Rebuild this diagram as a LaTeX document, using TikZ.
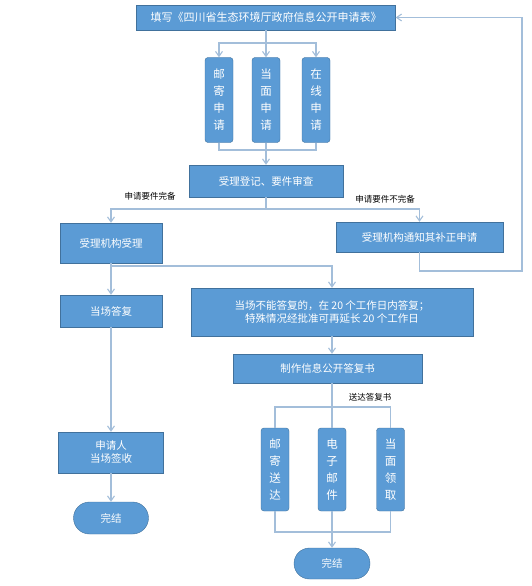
\documentclass[tikz,border=0pt]{standalone}
\usepackage{fontspec}
\setmainfont{Noto Sans CJK SC}
\usetikzlibrary{arrows.meta,positioning,shapes.misc}
\definecolor{BoxBlue}{HTML}{5B9BD5}
\definecolor{EdgeBlue}{HTML}{41719C}
\definecolor{LineBlue}{HTML}{A3BEDA}

\begin{document}
\begin{tikzpicture}[
  x=1pt, y=-1pt,
  block/.style={draw=EdgeBlue, fill=BoxBlue, text=white, inner sep=1pt, align=center, font=\fontsize{10.5}{13}\selectfont},
  tall/.style={block, rounded corners=3pt, minimum width=28pt, minimum height=85pt, font=\fontsize{11.5}{17}\selectfont},
  term/.style={block, rounded rectangle, minimum width=77pt, minimum height=32pt},
  note/.style={font=\fontsize{8.5}{10}\selectfont, text=black},
  line/.style={draw=LineBlue, line width=1.1pt},
  arr/.style={line, -{Straight Barb[length=5pt, width=7pt]}}
]
\useasboundingbox (0,0) rectangle (532,586);
% application
\node[block, minimum width=259pt, minimum height=25pt, font=\fontsize{11}{13}\selectfont] (fill) at (266,17.5) {填写《四川省生态环境厅政府信息公开申请表》};
\node[tall] (mail) at (219,100) {邮\\寄\\申\\请};
\node[tall] (face) at (266,100) {当\\面\\申\\请};
\node[tall] (online) at (316,100) {在\\线\\申\\请};
\node[block, minimum width=154pt, minimum height=32pt] (reg) at (266,181) {受理登记、要件审查};
\node[block, minimum width=102pt, minimum height=40pt] (acc) at (111,243) {受理机构受理};
\node[block, minimum width=167pt, minimum height=30pt] (fix) at (419.5,237) {受理机构通知其补正申请};
% reply
\node[block, minimum width=102pt, minimum height=32pt] (spot) at (111,311) {当场答复};
\node[block, minimum width=282pt, minimum height=48pt] (late) at (332,312) {当场不能答复的，在 20 个工作日内答复；\\特殊情况经批准可再延长 20 个工作日};
\node[block, minimum width=189pt, minimum height=29pt] (make) at (327.5,368.5) {制作信息公开答复书};
\node[block, minimum width=105pt, minimum height=41pt] (sign) at (111,452.5) {申请人\\当场签收};
\node[term] (end1) at (111,518) {完结};
\node[tall, minimum height=83pt] (post) at (275,469.5) {邮\\寄\\送\\达};
\node[tall, minimum height=83pt] (email) at (332,469.5) {电\\子\\邮\\件};
\node[tall, minimum height=83pt] (pick) at (390.5,469.5) {当\\面\\领\\取};
\node[term, minimum width=78pt, minimum height=31pt] (end2) at (332,563.5) {完结};
% labels
\node[note] (ok) at (150,196) {申请要件完备};
\node[note] (nok) at (385,199) {申请要件不完备};
\node[note] (send) at (370,397) {送达答复书};
% connectors
\coordinate (j1) at (266,43);
\coordinate (j2) at (266,150);
\coordinate (j3) at (266,209);
\coordinate (j4) at (111,266);
\coordinate (back) at (522,271);
\coordinate (j5) at (332,407);
\coordinate (j6) at (332,532);
\draw[line] (fill.south) -- (j1);
\draw[arr] (j1) -| (mail.north);
\draw[arr] (j1) -- (face.north);
\draw[arr] (j1) -| (online.north);
\draw[line] (mail.south) |- (j2) -| (online.south);
\draw[arr] (face.south) -- (reg.north);
\draw[line] (reg.south) -- (j3);
\draw[arr] (j3) -| (acc.north);
\draw[arr] (j3) -| (fix.north);
\draw[arr] (fix.south) |- (back) |- (fill.east);
\draw[arr] (acc.south) -- (spot.north);
\draw[arr] (j4) -| (late.north);
\draw[arr] (late.south) -- (late.south |- make.north);
\draw[arr] (spot.south) -- (sign.north);
\draw[arr] (sign.south) -- (end1.north);
\draw[line] (make.south -| email.north) -- (email.north);
\draw[line] (post.north) |- (j5) -| (pick.north);
\draw[line] (post.south) |- (j6) -| (pick.south);
\draw[arr] (email.south) -- (end2.north);
\end{tikzpicture}
\end{document}
